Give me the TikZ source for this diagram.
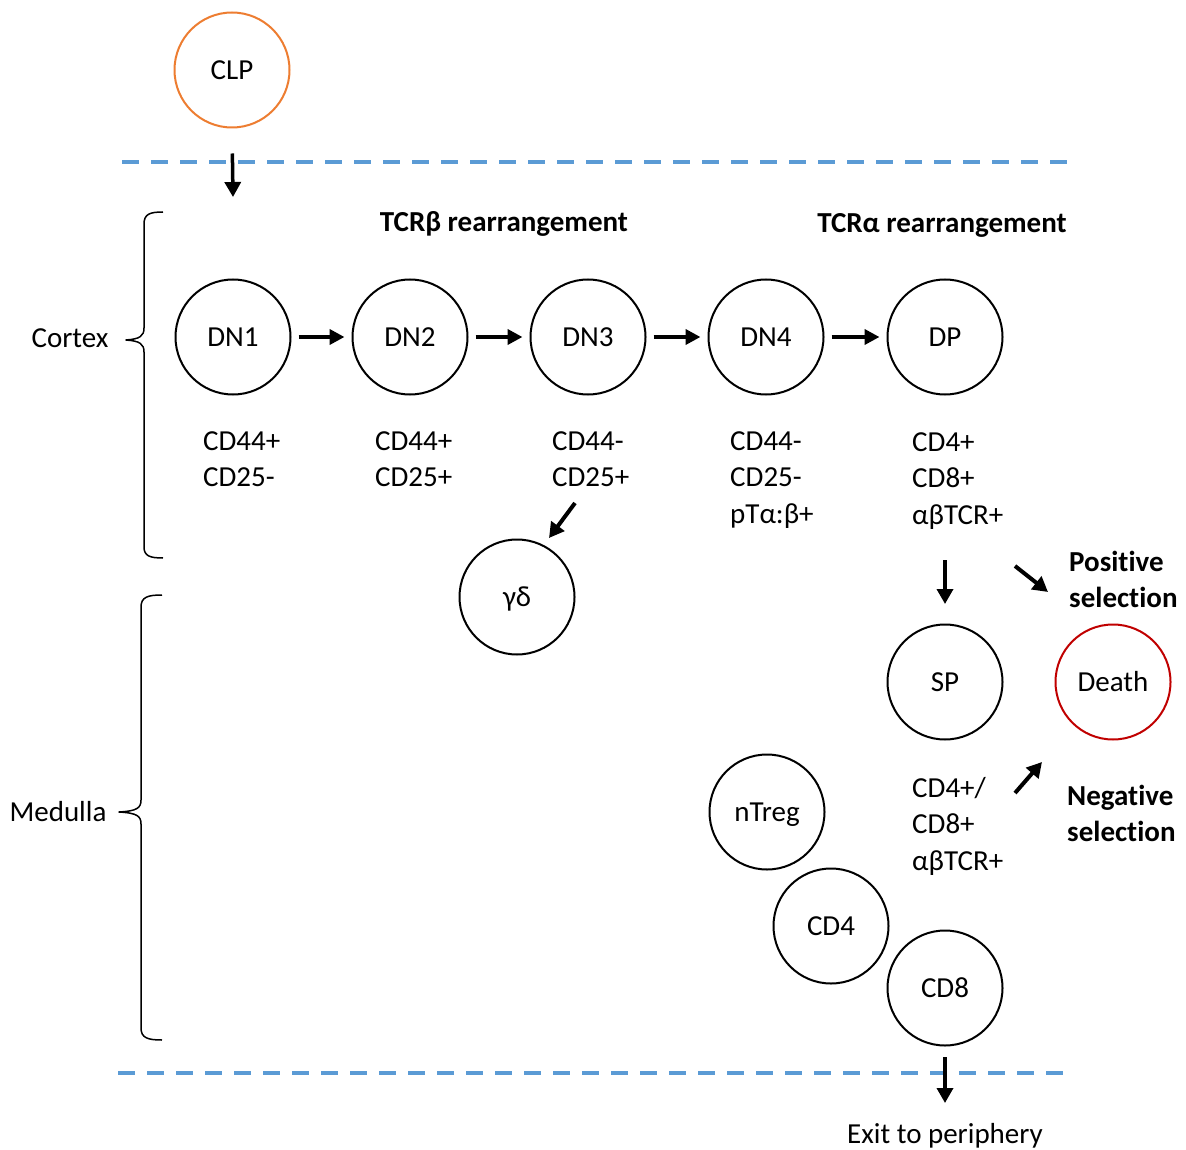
\documentclass[tikz,border=0pt]{standalone}
\usepackage{fontspec}
\setmainfont[Ligatures=NoCommon]{Carlito}
\usetikzlibrary{arrows.meta}
\definecolor{dashblue}{RGB}{91,155,213}
\definecolor{clporange}{RGB}{237,125,49}
\definecolor{deathred}{RGB}{192,0,0}
\begin{document}
\begin{tikzpicture}[x=1pt,y=-1pt,
  cell/.style={circle,draw=black,line width=2pt,minimum size=115pt,inner sep=0pt,
    font=\fontsize{29}{36}\selectfont,text height=18.5pt,text depth=0pt},
  lbl/.style={font=\fontsize{29}{36.5}\selectfont,inner sep=0pt,align=left,anchor=north west},
  hdr/.style={font=\fontsize{29}{36.5}\selectfont\bfseries,inner sep=0pt,anchor=base},
  sel/.style={font=\fontsize{29}{35.5}\selectfont\bfseries,inner sep=0pt,align=left,anchor=north west},
  side/.style={font=\fontsize{29}{36}\selectfont,inner sep=0pt,anchor=base},
  harr/.style={-{Triangle[length=15pt,width=15pt]},line width=4.5pt},
  varr/.style={-{Triangle[length=15pt,width=16pt]},line width=3.5pt},
  darr/.style={-{Triangle[length=15pt,width=16pt]},line width=4pt},
  sep/.style={dashblue,line width=4pt,dash pattern=on 17pt off 12pt},
  brace/.style={line width=1.5pt,line join=round}
]
\useasboundingbox (0,0) rectangle (1186,1150);

% separators
\draw[sep] (122,162) -- (1072,162);
\draw[sep] (118,1073) -- (1068,1073);

% nodes
\node[cell,draw=clporange] (clp) at (232,70) {CLP};
\node[cell] (dn1) at (233,337) {DN1};
\node[cell] (dn2) at (410,337) {DN2};
\node[cell] (dn3) at (588,337) {DN3};
\node[cell] (dn4) at (766,337) {DN4};
\node[cell] (dp) at (945,337) {DP};
\node[cell] (gd) at (517,597) {γδ};
\node[cell] (sp) at (945,682) {SP};
\node[cell,draw=deathred] (death) at (1113,682) {Death};
\node[cell] (ntreg) at (767,812) {nTreg};
\node[cell] (cd4) at (831,926) {CD4};
\node[cell] (cd8) at (945,988) {CD8};

% headers
\node[hdr] (hb) at (504,232) {TCRβ rearrangement};
\node[hdr] (ha) at (942,233) {TCRα rearrangement};

% marker labels
\node[lbl] (l1) at (203,431) {CD44+\\CD25-};
\node[lbl] (l2) at (375,431) {CD44+\\CD25+};
\node[lbl] (l3) at (552,431) {CD44-\\CD25+};
\node[lbl] (l4) at (730,431) {CD44-\\CD25-\\pTα:β+};
\node[lbl] (l5) at (912,432) {CD4+\\CD8+\\αβTCR+};
\node[lbl] (l6) at (912,777) {CD4+/\\CD8+\\αβTCR+};

\node[sel] (pos) at (1069,551) {Positive\\selection};
\node[sel] (neg) at (1067,785) {Negative\\selection};

\node[side] (cortex) at (70,348) {Cortex};
\node[side] (medulla) at (58,821) {Medulla};
\node[side] (exit) at (945,1143) {Exit to periphery};

% coordinates for free arrow ends
\coordinate (clpend) at (233,197);
\coordinate (gds) at (575,503);
\coordinate (gde) at (549,538);
\coordinate (sps) at (945,560);
\coordinate (spe) at (945,604);
\coordinate (poss) at (1015,566);
\coordinate (pose) at (1048,592);
\coordinate (negs) at (1015,793);
\coordinate (nege) at (1042,762);
\coordinate (exs) at (945,1057);
\coordinate (exe) at (945,1103);

% arrows
\draw[varr,shorten <=25pt] (clp.south) -- (clpend);
\draw[harr,shorten <=7pt,shorten >=7pt] (dn1) -- (dn2);
\draw[harr,shorten <=7pt,shorten >=7pt] (dn2) -- (dn3);
\draw[harr,shorten <=7pt,shorten >=7pt] (dn3) -- (dn4);
\draw[harr,shorten <=7pt,shorten >=7pt] (dn4) -- (dp);
\draw[darr] (gds) -- (gde);
\draw[varr] (sps) -- (spe);
\draw[darr] (poss) -- (pose);
\draw[darr] (negs) -- (nege);
\draw[varr] (exs) -- (exe);

% braces
\draw[brace] (163,212) .. controls (150,212) and (144,214) .. (144,224)
  -- (144,328) .. controls (144,336) and (140,339) .. (126,340)
  .. controls (140,341) and (144,344) .. (144,352)
  -- (144,547) .. controls (144,556) and (150,558) .. (163,558);
\draw[brace] (162,595) .. controls (148,595) and (141,597) .. (141,607)
  -- (141,800) .. controls (141,808) and (137,811) .. (119,812)
  .. controls (137,813) and (141,816) .. (141,824)
  -- (141,1028) .. controls (141,1038) and (148,1040) .. (162,1040);
\end{tikzpicture}
\end{document}
